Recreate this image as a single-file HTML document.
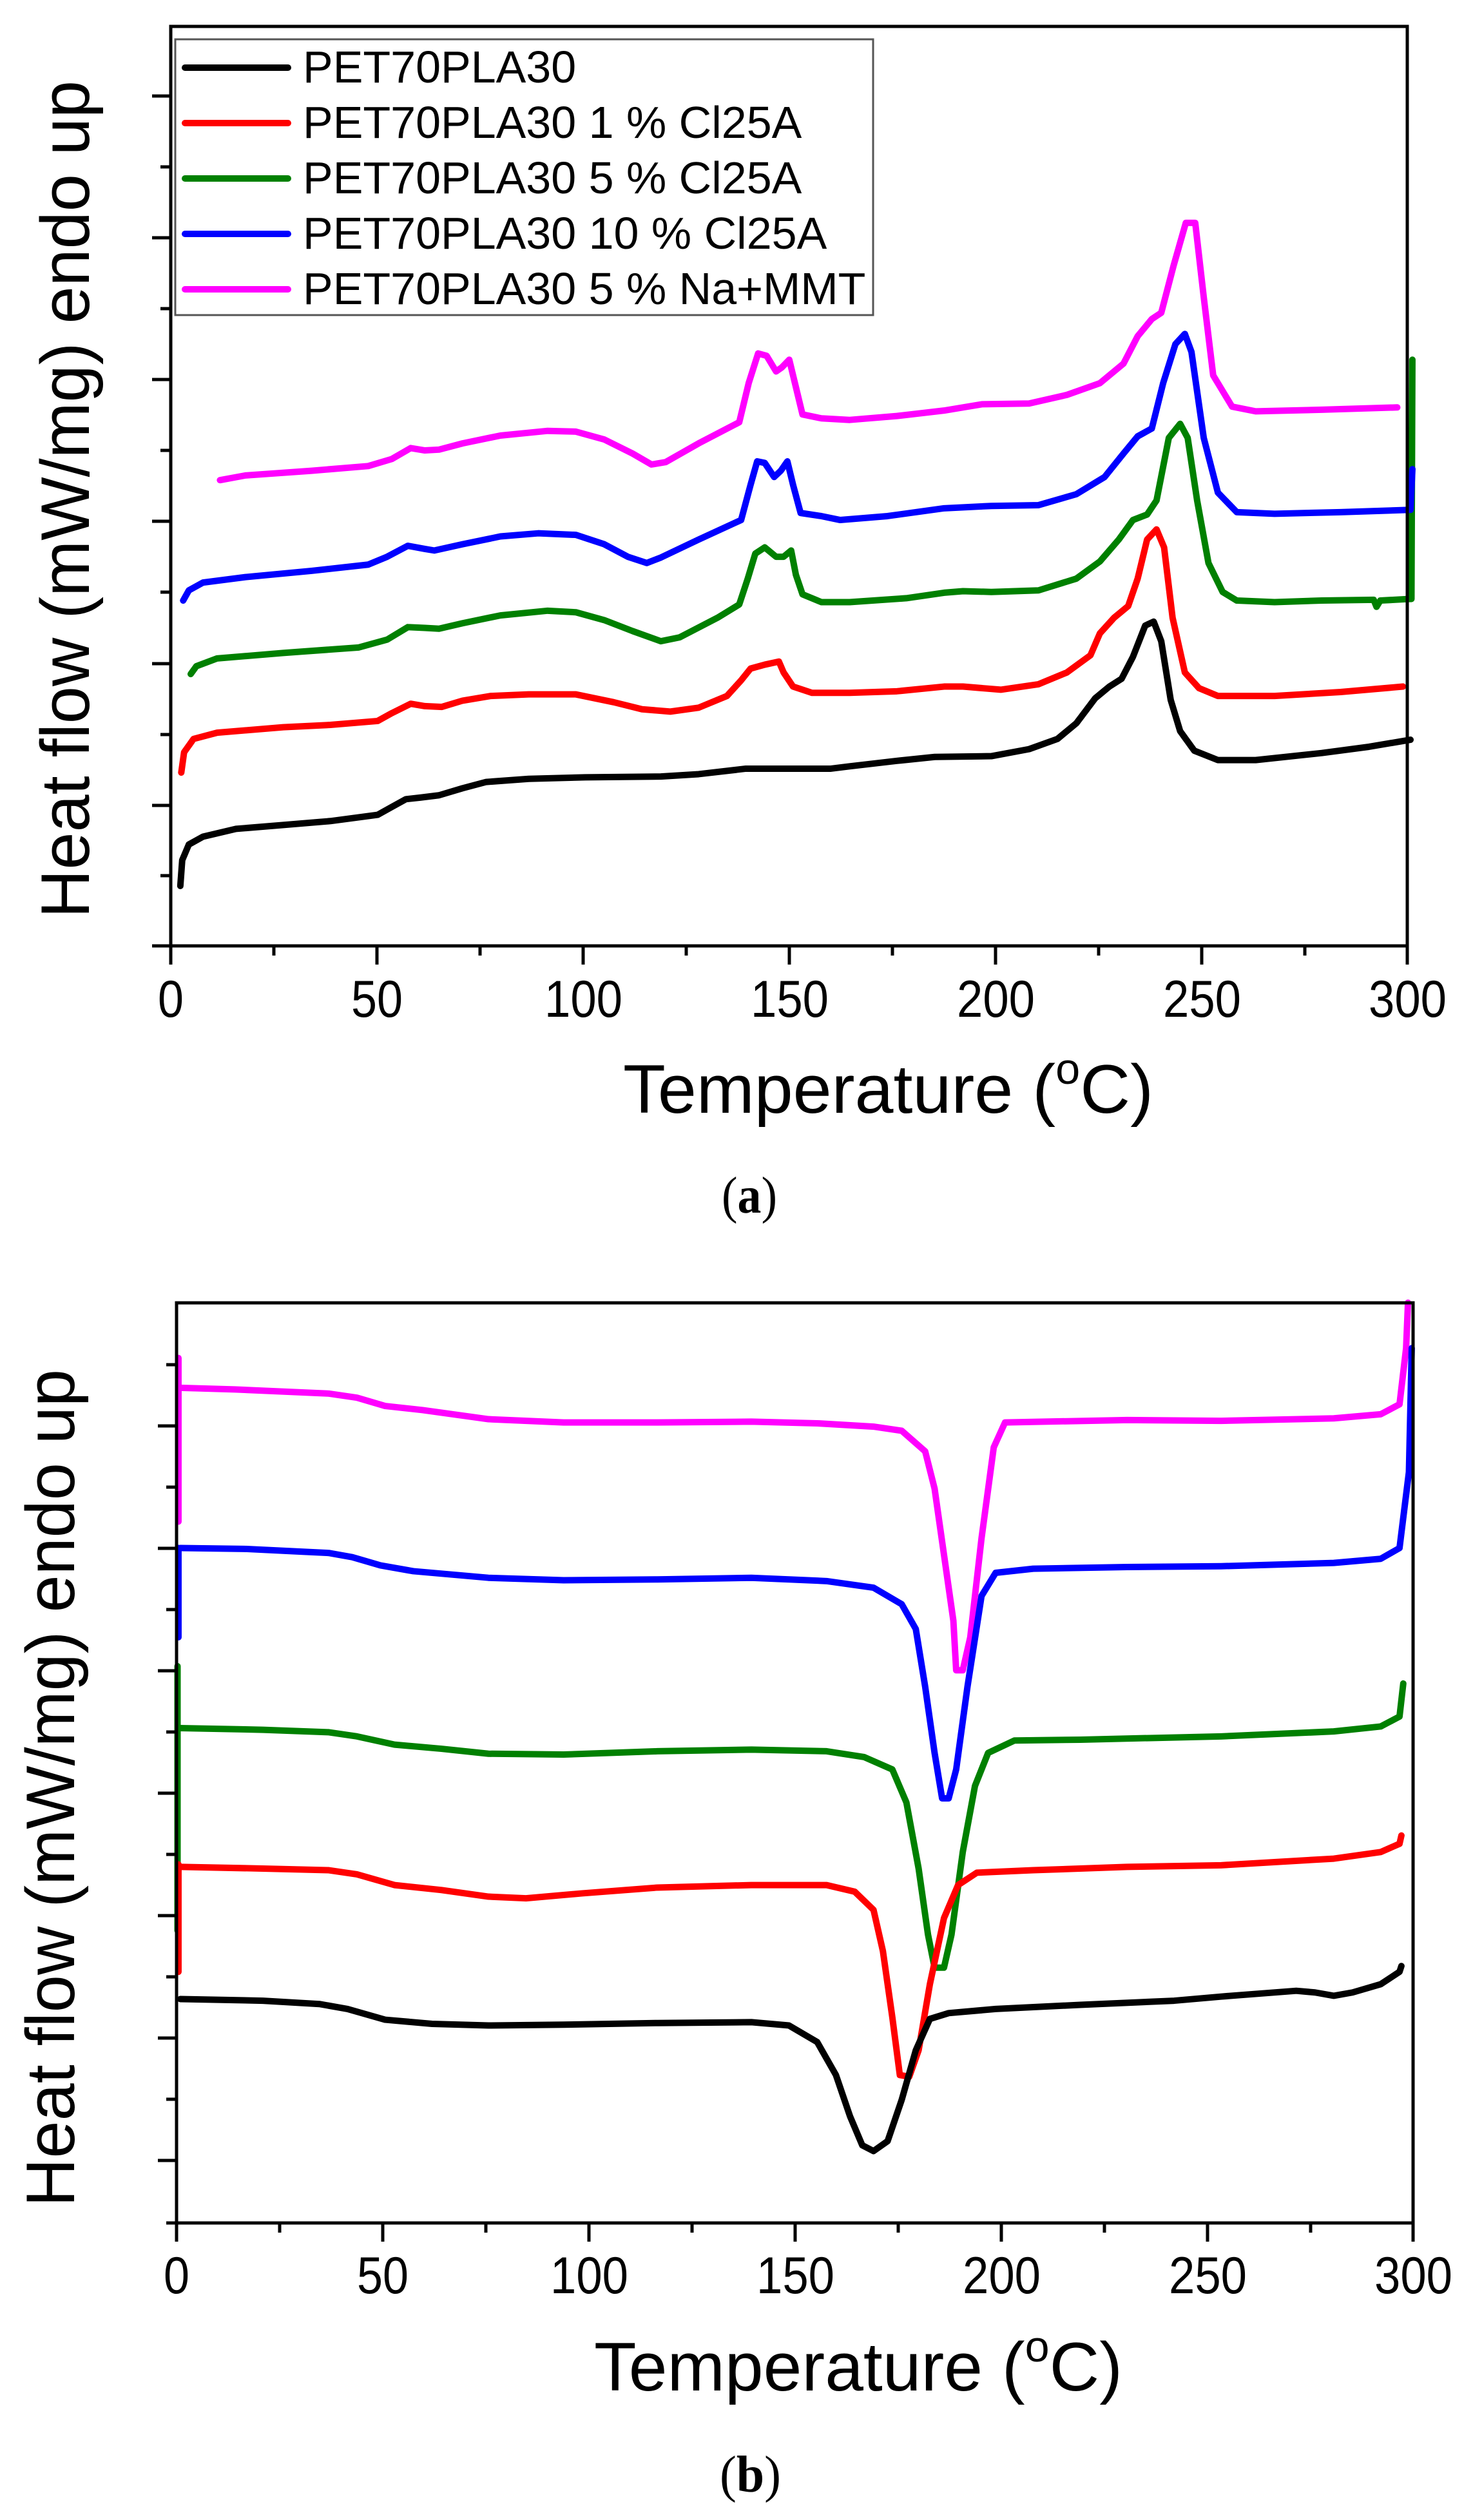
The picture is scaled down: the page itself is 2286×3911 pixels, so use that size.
<!DOCTYPE html>
<html><head><meta charset="utf-8"><style>
html,body{margin:0;padding:0;background:#fff;}
svg{display:block;}
text{font-family:"Liberation Sans",sans-serif;fill:#000;}
.ser{font-family:"Liberation Serif",serif;}
</style></head><body>
<svg width="2286" height="3911" viewBox="0 0 2286 3911" xmlns="http://www.w3.org/2000/svg">
<!-- ===== Plot (a) ===== -->
<g fill="none" stroke-linejoin="round" stroke-linecap="round">
<g transform="scale(1.4652,1.2136)">
<polyline vector-effect="non-scaling-stroke" stroke="#000" stroke-width="10" points="191,1133 193,1100 200,1080 215,1070 250,1060 300,1055 350,1050 400,1042 415,1032 430,1022 445,1020 465,1017 490,1008 515,1000 560,996 620,994 700,993 740,990 790,983 880,983 900,980 950,973 990,968 1050,967 1090,958 1120,945 1140,925 1160,893 1175,878 1188,868 1200,840 1213,800 1222,795 1230,820 1240,895 1250,935 1265,960 1290,972 1330,972 1400,963 1450,955 1494,946"/>
<polyline vector-effect="non-scaling-stroke" stroke="#ff0000" stroke-width="10" points="192,988 195,962 205,945 230,937 300,930 350,927 400,922 415,912 435,900 450,903 468,904 490,896 520,890 560,888 610,888 650,898 680,907 710,910 740,905 770,890 785,870 795,855 810,850 825,846 830,860 840,878 860,886 900,886 950,884 1000,878 1020,878 1060,882 1100,875 1130,860 1155,838 1165,810 1180,790 1195,775 1205,740 1215,690 1225,677 1233,700 1242,790 1255,860 1270,880 1290,890 1350,890 1420,885 1486,878"/>
<polyline vector-effect="non-scaling-stroke" stroke="#008000" stroke-width="10" points="202,862 208,852 230,842 300,835 380,828 410,818 432,802 450,803 465,804 490,797 530,787 580,781 610,783 640,793 670,807 700,820 720,815 760,790 783,773 792,740 800,708 810,700 822,712 830,712 838,704 843,735 850,760 870,770 900,770 960,765 1000,758 1020,756 1050,757 1100,755 1140,740 1165,718 1185,690 1200,665 1215,658 1225,640 1238,560 1250,542 1258,560 1268,640 1280,720 1295,757 1310,768 1350,770 1400,768 1455,767 1458,776 1462,768 1492,766 1495,766 1496,460"/>
<polyline vector-effect="non-scaling-stroke" stroke="#0000ff" stroke-width="10" points="194,768 200,755 215,745 260,738 330,730 390,722 410,712 432,698 450,702 460,704 490,696 530,686 570,682 610,684 640,696 665,712 685,720 700,713 740,690 785,665 795,620 802,590 810,592 820,610 827,602 834,590 840,620 848,656 870,660 890,665 940,660 1000,650 1050,647 1100,646 1140,632 1170,610 1190,580 1205,558 1220,548 1232,490 1245,440 1255,427 1262,450 1275,560 1290,630 1310,655 1350,657 1420,655 1494,652 1496,600"/>
<polyline vector-effect="non-scaling-stroke" stroke="#ff00ff" stroke-width="10" points="233,614 260,608 330,602 390,596 415,587 435,573 450,576 465,575 490,567 530,557 580,551 610,552 640,562 670,580 690,594 705,591 740,567 783,540 793,490 803,452 812,455 822,475 828,470 836,460 842,490 850,530 870,535 900,537 950,532 1000,525 1040,517 1090,516 1130,505 1165,490 1190,465 1205,430 1220,408 1230,400 1243,340 1256,285 1266,285 1275,380 1285,480 1305,520 1330,526 1400,524 1480,521"/>
</g>
</g>
<rect x="265" y="41" width="1919" height="1427" fill="none" stroke="#000" stroke-width="5"/>
<g stroke="#000" stroke-width="5">
<line x1="236" y1="149" x2="265" y2="149"/><line x1="236" y1="369" x2="265" y2="369"/><line x1="236" y1="589" x2="265" y2="589"/><line x1="236" y1="809" x2="265" y2="809"/><line x1="236" y1="1030" x2="265" y2="1030"/><line x1="236" y1="1250" x2="265" y2="1250"/><line x1="236" y1="1468" x2="265" y2="1468"/>
<line x1="249" y1="259" x2="265" y2="259"/><line x1="249" y1="479" x2="265" y2="479"/><line x1="249" y1="699" x2="265" y2="699"/><line x1="249" y1="919" x2="265" y2="919"/><line x1="249" y1="1140" x2="265" y2="1140"/><line x1="249" y1="1359" x2="265" y2="1359"/>
<line x1="265" y1="1468" x2="265" y2="1497"/><line x1="585" y1="1468" x2="585" y2="1497"/><line x1="905" y1="1468" x2="905" y2="1497"/><line x1="1225" y1="1468" x2="1225" y2="1497"/><line x1="1545" y1="1468" x2="1545" y2="1497"/><line x1="1865" y1="1468" x2="1865" y2="1497"/><line x1="2184" y1="1468" x2="2184" y2="1497"/>
<line x1="425" y1="1468" x2="425" y2="1483"/><line x1="745" y1="1468" x2="745" y2="1483"/><line x1="1065" y1="1468" x2="1065" y2="1483"/><line x1="1385" y1="1468" x2="1385" y2="1483"/><line x1="1705" y1="1468" x2="1705" y2="1483"/><line x1="2025" y1="1468" x2="2025" y2="1483"/>
</g>
<g font-size="81" lengthAdjust="spacingAndGlyphs">
<text x="245" y="1578" textLength="40" lengthAdjust="spacingAndGlyphs">0</text>
<text x="545" y="1578" textLength="80" lengthAdjust="spacingAndGlyphs">50</text>
<text x="845" y="1578" textLength="121" lengthAdjust="spacingAndGlyphs">100</text>
<text x="1165" y="1578" textLength="121" lengthAdjust="spacingAndGlyphs">150</text>
<text x="1485" y="1578" textLength="121" lengthAdjust="spacingAndGlyphs">200</text>
<text x="1805" y="1578" textLength="121" lengthAdjust="spacingAndGlyphs">250</text>
<text x="2124" y="1578" textLength="121" lengthAdjust="spacingAndGlyphs">300</text>
</g>
<text x="967" y="1727" font-size="107" textLength="823" lengthAdjust="spacingAndGlyphs">Temperature (<tspan font-size="68" dy="-45">o</tspan><tspan dy="45">C)</tspan></text>
<text transform="translate(138,775) rotate(-90)" font-size="107" text-anchor="middle" textLength="1300" lengthAdjust="spacingAndGlyphs">Heat flow (mW/mg) endo up</text>
<text x="1120" y="1882" class="ser" font-size="80" textLength="86" lengthAdjust="spacingAndGlyphs">(<tspan font-weight="bold">a</tspan>)</text>
<!-- legend -->
<rect x="272" y="61" width="1083" height="428" fill="#fff" stroke="#555" stroke-width="3"/>
<g stroke-width="10" stroke-linecap="round">
<line x1="287" y1="105" x2="447" y2="105" stroke="#000"/>
<line x1="287" y1="191" x2="447" y2="191" stroke="#ff0000"/>
<line x1="287" y1="277" x2="447" y2="277" stroke="#008000"/>
<line x1="287" y1="363" x2="447" y2="363" stroke="#0000ff"/>
<line x1="287" y1="449" x2="447" y2="449" stroke="#ff00ff"/>
</g>
<g font-size="70">
<text x="470" y="128">PET70PLA30</text>
<text x="470" y="214">PET70PLA30 1 % Cl25A</text>
<text x="470" y="300">PET70PLA30 5 % Cl25A</text>
<text x="470" y="386">PET70PLA30 10 % Cl25A</text>
<text x="470" y="472">PET70PLA30 5 % Na+MMT</text>
</g>

<!-- ===== Plot (b) ===== -->
<g fill="none" stroke-linejoin="round" stroke-linecap="round">
<g transform="translate(0,1900) scale(1.4577,1.282)">
<polyline vector-effect="non-scaling-stroke" stroke="#ff00ff" stroke-width="10" points="190,162 190,360"/>
<polyline vector-effect="non-scaling-stroke" stroke="#ff00ff" stroke-width="10" points="192,198 250,200 350,205 380,210 410,220 450,225 520,236 600,240 700,240 800,239 870,241 930,245 960,250 985,275 995,320 1005,400 1015,480 1018,540 1025,540 1033,500 1045,380 1058,270 1070,240 1200,237 1300,238 1420,235 1470,230 1490,218 1497,150 1499,95"/>
<polyline vector-effect="non-scaling-stroke" stroke="#0000ff" stroke-width="10" points="190,392 190,500"/>
<polyline vector-effect="non-scaling-stroke" stroke="#0000ff" stroke-width="10" points="192,392 260,393 350,398 375,403 405,413 440,420 520,428 600,431 700,430 800,428 880,432 930,440 960,460 975,490 985,560 995,640 1003,695 1010,695 1018,660 1030,560 1045,450 1060,422 1100,417 1200,415 1300,414 1420,410 1470,405 1490,392 1500,300 1503,150"/>
<polyline vector-effect="non-scaling-stroke" stroke="#008000" stroke-width="10" points="189,535 189,855"/>
<polyline vector-effect="non-scaling-stroke" stroke="#008000" stroke-width="10" points="192,610 280,612 350,615 380,620 420,630 470,635 520,641 600,642 700,638 800,636 880,638 920,645 950,660 965,700 978,780 988,860 995,900 1005,900 1013,860 1025,760 1038,680 1052,640 1080,625 1150,624 1300,620 1420,614 1470,608 1490,596 1494,556"/>
<polyline vector-effect="non-scaling-stroke" stroke="#ff0000" stroke-width="10" points="190,775 190,905"/>
<polyline vector-effect="non-scaling-stroke" stroke="#ff0000" stroke-width="10" points="192,778 280,780 350,782 380,787 420,800 470,806 520,814 560,816 620,810 700,803 800,800 880,800 910,808 930,830 940,880 950,960 958,1030 968,1032 978,1000 990,920 1005,840 1020,800 1040,785 1100,782 1200,778 1300,776 1420,768 1470,760 1490,750 1492,740"/>
<polyline vector-effect="non-scaling-stroke" stroke="#000" stroke-width="10" points="192,938 280,940 340,944 370,950 410,963 460,968 520,970 600,969 700,967 800,966 840,970 870,990 890,1030 905,1080 918,1115 930,1122 945,1110 960,1060 975,1000 990,962 1010,955 1060,950 1150,945 1250,940 1300,935 1380,928 1400,930 1420,934 1440,930 1470,920 1490,905 1492,898"/>
</g>
</g>
<rect x="274" y="2022" width="1919" height="1428" fill="none" stroke="#000" stroke-width="5"/>
<g stroke="#000" stroke-width="5">
<line x1="245" y1="2213" x2="274" y2="2213"/><line x1="245" y1="2403" x2="274" y2="2403"/><line x1="245" y1="2593" x2="274" y2="2593"/><line x1="245" y1="2783" x2="274" y2="2783"/><line x1="245" y1="2973" x2="274" y2="2973"/><line x1="245" y1="3163" x2="274" y2="3163"/><line x1="245" y1="3353" x2="274" y2="3353"/>
<line x1="258" y1="2118" x2="274" y2="2118"/><line x1="258" y1="2308" x2="274" y2="2308"/><line x1="258" y1="2498" x2="274" y2="2498"/><line x1="258" y1="2688" x2="274" y2="2688"/><line x1="258" y1="2878" x2="274" y2="2878"/><line x1="258" y1="3068" x2="274" y2="3068"/><line x1="258" y1="3258" x2="274" y2="3258"/><line x1="258" y1="3450" x2="274" y2="3450"/>
<line x1="274" y1="3450" x2="274" y2="3479"/><line x1="594" y1="3450" x2="594" y2="3479"/><line x1="914" y1="3450" x2="914" y2="3479"/><line x1="1234" y1="3450" x2="1234" y2="3479"/><line x1="1554" y1="3450" x2="1554" y2="3479"/><line x1="1874" y1="3450" x2="1874" y2="3479"/><line x1="2193" y1="3450" x2="2193" y2="3479"/>
<line x1="434" y1="3450" x2="434" y2="3465"/><line x1="754" y1="3450" x2="754" y2="3465"/><line x1="1074" y1="3450" x2="1074" y2="3465"/><line x1="1394" y1="3450" x2="1394" y2="3465"/><line x1="1714" y1="3450" x2="1714" y2="3465"/><line x1="2034" y1="3450" x2="2034" y2="3465"/>
</g>
<g font-size="81">
<text x="254" y="3559" textLength="40" lengthAdjust="spacingAndGlyphs">0</text>
<text x="554" y="3559" textLength="80" lengthAdjust="spacingAndGlyphs">50</text>
<text x="854" y="3559" textLength="121" lengthAdjust="spacingAndGlyphs">100</text>
<text x="1174" y="3559" textLength="121" lengthAdjust="spacingAndGlyphs">150</text>
<text x="1494" y="3559" textLength="121" lengthAdjust="spacingAndGlyphs">200</text>
<text x="1814" y="3559" textLength="121" lengthAdjust="spacingAndGlyphs">250</text>
<text x="2133" y="3559" textLength="121" lengthAdjust="spacingAndGlyphs">300</text>
</g>
<text x="922" y="3710" font-size="107" textLength="820" lengthAdjust="spacingAndGlyphs">Temperature (<tspan font-size="68" dy="-45">o</tspan><tspan dy="45">C)</tspan></text>
<text transform="translate(115,2775) rotate(-90)" font-size="107" text-anchor="middle" textLength="1300" lengthAdjust="spacingAndGlyphs">Heat flow (mW/mg) endo up</text>
<text x="1117" y="3867" class="ser" font-size="80" textLength="95" lengthAdjust="spacingAndGlyphs">(<tspan font-weight="bold">b</tspan>)</text>
</svg>
</body></html>
